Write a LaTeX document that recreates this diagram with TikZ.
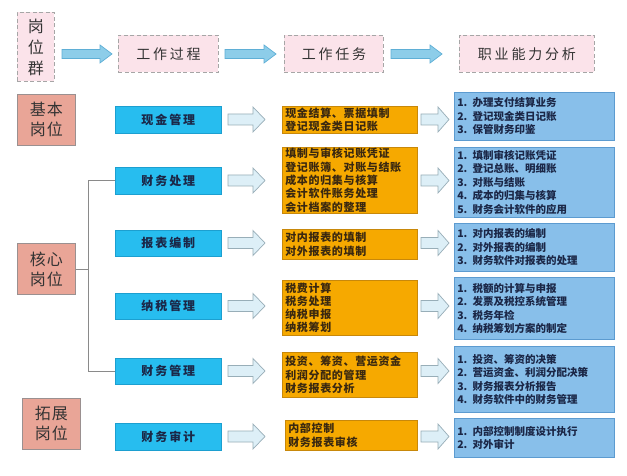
\documentclass[tikz,border=0pt]{standalone}
\usepackage{fontspec}
\setmainfont{Noto Sans CJK SC}
\newfontfamily\cjk{Noto Sans CJK SC}
\newfontfamily\cjkA[LetterSpace=20]{Noto Sans CJK SC}
\newfontfamily\cjkB[LetterSpace=16]{Noto Sans CJK SC}
\newfontfamily\cjkC[LetterSpace=6]{Noto Sans CJK SC}
\definecolor{pinkfill}{HTML}{FBE3EA}
\definecolor{dashgray}{HTML}{A6A6A6}
\definecolor{salfill}{HTML}{E9A597}
\definecolor{salline}{HTML}{9A9090}
\definecolor{cyanfill}{HTML}{27BDEF}
\definecolor{cyanline}{HTML}{1C9FD0}
\definecolor{orfill}{HTML}{F6A900}
\definecolor{orline}{HTML}{C8880A}
\definecolor{bluefill}{HTML}{88BFEA}
\definecolor{blueline}{HTML}{5C9BD0}
\definecolor{navytext}{HTML}{1B2747}
\definecolor{browntext}{HTML}{3A2810}
\definecolor{toparrowfill}{HTML}{8DCDE9}
\definecolor{toparrowline}{HTML}{5FAFD6}
\definecolor{rowarrowfill}{HTML}{DDEFF7}
\definecolor{rowarrowline}{HTML}{98AEB8}
\definecolor{treeline}{HTML}{8A8A8A}
\newcommand\blockarrow[7]{% style, x1, x2, yc, halfshaft, halfhead, headlen
  \draw[#1] (#2,#4-#5) -- (#3-#7,#4-#5) -- (#3-#7,#4-#6) -- (#3,#4)
    -- (#3-#7,#4+#6) -- (#3-#7,#4+#5) -- (#2,#4+#5) -- cycle;}
\tikzset{
  pinkbox/.style={draw=dashgray, dash pattern=on 4pt off 2.5pt, line width=0.9pt,
    fill=pinkfill, anchor=north west, inner sep=0pt, text=black!80,
    font=\cjkA\fontsize{14}{16}\selectfont},
  salbox/.style={draw=salline, line width=0.8pt, fill=salfill, anchor=north west,
    inner sep=0pt, align=center, text=black!80,
    font=\cjkC\fontsize{16}{20}\selectfont},
  cyanbox/.style={draw=cyanline, line width=0.6pt, fill=cyanfill, anchor=north west,
    inner sep=0pt, minimum width=106pt, text=navytext,
    font=\cjkB\bfseries\fontsize{12}{14}\selectfont},
  orbox/.style={draw=orline, line width=0.6pt, fill=orfill, anchor=north west,
    inner xsep=3pt, inner ysep=0pt, align=left, text=browntext,
    font=\cjkC\bfseries\fontsize{11}{13.3}\selectfont},
  bluebox/.style={draw=blueline, line width=0.6pt, fill=bluefill, anchor=north west,
    inner xsep=3pt, inner ysep=0pt, align=left, text width=154pt, text=navytext,
    font=\cjk\bfseries\fontsize{10.5}{13.5}\selectfont},
  toparrow/.style={fill=toparrowfill, draw=toparrowline, line width=0.7pt},
  rowarrow/.style={fill=rowarrowfill, draw=rowarrowline, line width=0.7pt},
  tree/.style={draw=treeline, line width=0.8pt},
}
\begin{document}
\begin{tikzpicture}[x=1pt,y=-1pt]
\useasboundingbox[fill=white] (0,0) rectangle (627,476);

% top row
\node[pinkbox, minimum width=37pt, minimum height=69pt, align=center,
  font=\cjk\fontsize{16}{21}\selectfont] (gwq) at (17,12) {岗\\位\\群};
\node[pinkbox, minimum width=100pt, minimum height=37pt] (gzgc) at (118,35) {工作过程};
\node[pinkbox, minimum width=99pt, minimum height=37pt] (gzrw) at (284,35) {工作任务};
\node[pinkbox, minimum width=135pt, minimum height=37pt] (zynl) at (459,35) {职业能力分析};
\blockarrow{toparrow}{62}{112}{54}{4.5}{9}{12}
\blockarrow{toparrow}{225}{276}{54}{4.5}{9}{12}
\blockarrow{toparrow}{391}{442}{54}{4.5}{9}{12}

% left categories
\node[salbox, minimum width=58pt, minimum height=51pt] (jb) at (17,94) {基本\\岗位};
\node[salbox, minimum width=58pt, minimum height=51pt] (hx) at (17,243) {核心\\岗位};
\node[salbox, minimum width=58pt, minimum height=51pt] (tz) at (22,398) {拓展\\岗位};

% process boxes
\node[cyanbox, minimum height=27pt] (c1) at (115,106) {现金管理};
\node[cyanbox, minimum height=27pt] (c2) at (115,167) {财务处理};
\node[cyanbox, minimum height=26pt] (c3) at (115,230) {报表编制};
\node[cyanbox, minimum height=26pt] (c4) at (115,293) {纳税管理};
\node[cyanbox, minimum height=26pt] (c5) at (115,358) {财务管理};
\node[cyanbox, minimum height=27pt] (c6) at (115,423) {财务审计};

% tree connector
\coordinate (tv) at (88,0);
\draw[tree] (c2.west) -- (c2.west -| tv) -- (c5.west -| tv) -- (c5.west);
\draw[tree] (hx.east) -- (hx.east -| tv);

% task boxes
\node[orbox, minimum height=27pt, text width=129pt] (o1) at (282,106)
  {现金结算、票据填制\\登记现金类日记账};
\node[orbox, minimum height=66pt, text width=129pt] (o2) at (282,147)
  {填制与审核记账凭证\\登记账簿、对账与结账\\成本的归集与核算\\会计软件账务处理\\会计档案的整理};
\node[orbox, minimum height=30pt, text width=129pt] (o3) at (282,229)
  {对内报表的填制\\对外报表的填制};
\node[orbox, minimum height=55pt, text width=129pt] (o4) at (282,280)
  {税费计算\\税务处理\\纳税申报\\纳税筹划};
\node[orbox, minimum height=45pt, text width=129pt] (o5) at (282,352)
  {投资、筹资、营运资金\\利润分配的管理\\财务报表分析};
\node[orbox, minimum height=30pt, text width=126pt] (o6) at (285,420)
  {内部控制\\财务报表审核};

% ability boxes
\node[bluebox, minimum height=48pt] (b1) at (454,92)
  {1. 办理支付结算业务\\2. 登记现金类日记账\\3. 保管财务印鉴};
\node[bluebox, minimum height=70pt] (b2) at (454,147)
  {1. 填制审核记账凭证\\2. 登记总账、明细账\\3. 对账与结账\\4. 成本的归集与核算\\5. 财务会计软件的应用};
\node[bluebox, minimum height=48pt] (b3) at (454,223)
  {1. 对内报表的编制\\2. 对外报表的编制\\3. 财务软件对报表的处理};
\node[bluebox, minimum height=62pt] (b4) at (454,277)
  {1. 税额的计算与申报\\2. 发票及税控系统管理\\3. 税务年检\\4. 纳税筹划方案的制定};
\node[bluebox, minimum height=66pt] (b5) at (454,346)
  {1. 投资、筹资的决策\\2. 营运资金、利润分配决策\\3. 财务报表分析报告\\4. 财务软件中的财务管理};
\node[bluebox, minimum height=39pt] (b6) at (454,418)
  {1. 内部控制制度设计执行\\2. 对外审计};

% row arrows
\foreach \yc in {119.5,180.5,243,306,371,436.5}{
  \blockarrow{rowarrow}{228}{265}{\yc}{5.5}{12.5}{12}
  \blockarrow{rowarrow}{421}{449}{\yc}{5.5}{12.5}{11}
}
\end{tikzpicture}
\end{document}
